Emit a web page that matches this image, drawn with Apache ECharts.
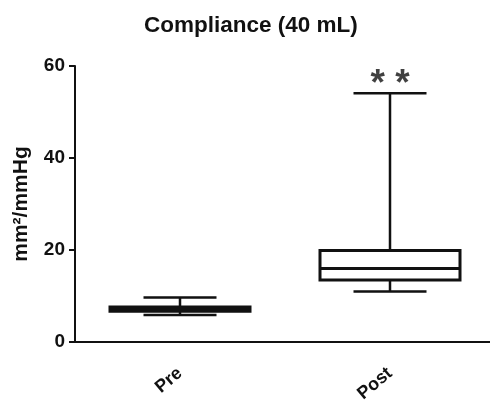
<!DOCTYPE html>
<html>
<head>
<meta charset="utf-8">
<script src="https://cdn.jsdelivr.net/npm/echarts@6/dist/echarts.min.js"></script>
<style>
  html, body { margin: 0; padding: 0; background: #fff; }
  #chart { width: 490px; height: 406px; }
</style>
</head>
<body>
<div id="chart"></div>
<script>
// values
const categories = ['Pre', 'Post'];
// [min, Q1, median, Q3, max]
const boxStats = [
  [5.85, 6.7, 7.1, 7.6, 9.7],
  [11.0, 13.5, 16.0, 19.9, 54.1]
];
const significance = ['', '* *'];
const yMin = 0;
const yMax = 60;
const yStep = 20;

const FONT = 'Liberation Sans, Arial, sans-serif';
const INK = '#111';

// whiskers use narrow caps, box is wider -> two boxplot layers on twin axes
const whiskerData = boxStats.map(s => [s[0], s[2], s[2], s[2], s[4]]);
const bodyData = boxStats.map(s => [s[1], s[1], s[2], s[3], s[3]]);
const starData = boxStats
  .map((s, i) => ({ name: significance[i], value: [categories[i], s[4]] }))
  .filter(d => d.name);

const chart = echarts.init(document.getElementById('chart'));

chart.setOption({
  animation: false,
  backgroundColor: '#fff',
  title: {
    text: 'Compliance (40 mL)',
    left: 139,
    top: 9,
    textStyle: { fontFamily: FONT, fontWeight: 'bold', fontSize: 22.5, color: INK }
  },
  // the x axis runs past the right edge of the picture
  grid: { left: 75, width: 420, top: 66, bottom: 64, outerBoundsMode: 'none' },
  xAxis: [
    {
      type: 'category',
      data: categories,
      axisLine: { lineStyle: { color: INK, width: 2 } },
      axisTick: { alignWithLabel: true, length: 7, lineStyle: { color: INK, width: 2 } },
      axisLabel: {
        rotate: 40, margin: 29,
        fontFamily: FONT, fontWeight: 'bold', fontSize: 18, color: INK
      },
      splitLine: { show: false }
    },
    {
      type: 'category',
      data: categories,
      show: false
    }
  ],
  yAxis: {
    type: 'value',
    min: yMin, max: yMax, interval: yStep,
    name: 'mm²/mmHg',
    nameLocation: 'middle',
    nameGap: 43,
    nameTextStyle: { fontFamily: FONT, fontWeight: 'bold', fontSize: 21, color: INK },
    axisLine: { show: true, lineStyle: { color: INK, width: 2 } },
    axisTick: { show: true, length: 6, lineStyle: { color: INK, width: 2 } },
    axisLabel: { margin: 10, fontFamily: FONT, fontWeight: 'bold', fontSize: 19, color: INK },
    splitLine: { show: false }
  },
  series: [
    {
      type: 'boxplot',
      xAxisIndex: 1,
      data: whiskerData,
      boxWidth: [73, 73],
      itemStyle: { color: '#fff', borderColor: INK, borderWidth: 2.5 }
    },
    {
      type: 'boxplot',
      xAxisIndex: 0,
      data: bodyData,
      boxWidth: [140, 140],
      itemStyle: { color: '#fff', borderColor: INK, borderWidth: 3 }
    },
    {
      type: 'scatter',
      xAxisIndex: 0,
      data: starData,
      symbolSize: 0,
      label: {
        show: true,
        position: 'top',
        distance: -10,
        formatter: p => p.name,
        fontFamily: FONT, fontWeight: 'bold', fontSize: 37, color: INK
      }
    }
  ]
});
</script>
</body>
</html>
